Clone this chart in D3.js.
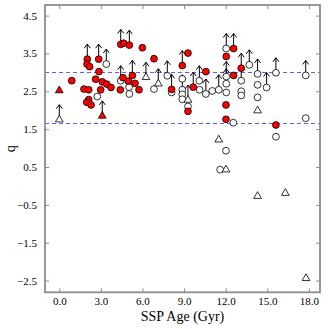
<!DOCTYPE html>
<html><head><meta charset="utf-8">
<script src="https://cdn.jsdelivr.net/npm/d3@7"></script>
<style>html,body{margin:0;padding:0;background:#fff;}svg{display:block;}</style>
</head><body>
<svg id="c" width="329" height="329"></svg>
<script>
// [age (Gyr), q, lowerLimit]
const redCircles = [
 [0.9,2.78,0],[2.02,3.35,1],[2.0,3.22,0],[2.19,3.15,0],[2.84,3.35,1],[2.86,3.02,0],
 [2.62,2.82,0],[3.1,2.75,0],[3.42,2.69,0],[3.73,2.60,0],[1.78,2.56,0],[2.12,2.54,0],
 [2.98,2.54,0],[2.12,2.28,0],[1.98,2.21,0],[2.29,2.14,0],[4.43,3.74,1],[4.64,3.77,0],
 [5.05,3.72,1],[5.99,3.65,0],[6.83,3.36,0],[4.59,2.86,0],[5.27,2.92,1],[4.98,2.77,0],
 [5.46,2.71,0],[4.4,2.54,0],[5.75,2.54,0],[8.1,2.55,1],[8.87,3.18,1],[9.28,3.51,0],
 [9.28,1.97,0],[9.66,2.61,1],[10.57,3.02,0],[12.04,3.42,0],[12.57,3.63,1],[12.57,2.92,0],
 [13.12,3.11,1],[12.02,2.14,0],[12.02,1.76,0],[15.62,1.61,0]
];
const openCircles = [
 [3.39,3.22,1],[2.74,2.36,0],[4.43,2.78,1],[5.03,2.61,0],[5.05,2.43,0],[6.83,2.56,0],
 [7.79,2.91,1],[8.1,2.47,0],[8.87,2.83,0],[8.87,2.54,1],[8.87,2.42,0],[8.87,2.29,0],
 [9.28,2.10,0],[10.1,2.78,1],[10.12,2.54,0],[10.57,2.43,1],[11.03,2.51,0],[11.5,2.54,1],
 [12.04,3.63,1],[12.04,2.89,1],[12.04,2.70,1],[12.04,2.47,0],[13.12,2.78,1],[13.12,2.5,0],
 [13.12,2.39,0],[13.7,3.2,1],[14.3,2.96,1],[14.3,2.67,0],[14.3,2.34,0],[14.95,2.6,1],
 [15.62,2.99,1],[15.62,1.3,0],[17.77,2.92,1],[17.77,1.79,0],[12.55,1.67,0],[12.02,0.93,0],
 [11.6,0.43,0]
];
const redTriangles = [[0.0,2.52,0],[3.1,1.85,1]];
const openTriangles = [
 [0.0,1.75,1],[6.25,2.87,1],[7.14,2.70,1],[9.28,2.27,1],[11.5,1.22,0],[12.02,0.43,0],
 [14.3,1.99,0],[14.3,-0.27,0],[16.3,-0.19,0],[17.79,-2.44,0]
];
const refLines = [3.0, 1.65];
const xTicks = [0,3,6,9,12,15,18];
const yTicks = [4.5,3.5,2.5,1.5,0.5,-0.5,-1.5,-2.5];

const svg = d3.select("#c");
const L=45, R=320, T=5, B=292.3;
const x = d3.scaleLinear().domain([-1.03,18.8]).range([L,R]);
const y = d3.scaleLinear().domain([-2.81,4.78]).range([B,T]);
const font = "'Liberation Serif','Times New Roman',serif";
const frameCol = "#8c8c8c";

// reference lines
svg.selectAll("line.ref").data(refLines).enter().append("line")
  .attr("x1",L).attr("x2",R).attr("y1",d=>Math.round(y(d))+0.5).attr("y2",d=>Math.round(y(d))+0.5)
  .attr("stroke","#5c5cff").attr("stroke-width",1).attr("stroke-dasharray","4,3");

// axes (ticks inside on all sides)
const ax = (g)=>g.selectAll(".domain").remove();
svg.append("g").attr("transform",`translate(0,${B})`)
  .call(d3.axisBottom(x).tickValues(xTicks).tickSizeInner(-4).tickSizeOuter(0).tickPadding(5).tickFormat(d3.format(".1f")))
  .call(ax).call(g=>{g.selectAll("line").attr("stroke",frameCol);g.selectAll("text").attr("font-family",font).attr("font-size",11).attr("fill","#000");});
svg.append("g").attr("transform",`translate(0,${T})`)
  .call(d3.axisTop(x).tickValues(xTicks).tickSizeInner(-4).tickSizeOuter(0).tickFormat(""))
  .call(ax).call(g=>g.selectAll("line").attr("stroke",frameCol));
svg.append("g").attr("transform",`translate(${L},0)`)
  .call(d3.axisLeft(y).tickValues(yTicks).tickSizeInner(-4).tickSizeOuter(0).tickPadding(8).tickFormat(d=>d3.format(".1f")(d).replace("-","\u2212")))
  .call(ax).call(g=>{g.selectAll("line").attr("stroke",frameCol);g.selectAll("text").attr("font-family",font).attr("font-size",11).attr("fill","#000");});
svg.append("g").attr("transform",`translate(${R},0)`)
  .call(d3.axisRight(y).tickValues(yTicks).tickSizeInner(-4).tickSizeOuter(0).tickFormat(""))
  .call(ax).call(g=>g.selectAll("line").attr("stroke",frameCol));

// arrows for lower limits
const allPts = [].concat(redCircles,openCircles,redTriangles,openTriangles).filter(d=>d[2]);
const ag = svg.append("g").attr("stroke","#000").attr("stroke-width",1).attr("fill","none");
allPts.forEach(d=>{
  const cx=x(d[0]), cy=y(d[1]), tip=cy-15;
  ag.append("line").attr("x1",cx).attr("x2",cx).attr("y1",cy).attr("y2",tip);
  ag.append("path").attr("d",`M${cx-3},${tip+4}L${cx},${tip}L${cx+3},${tip+4}`);
});

// markers
const circ=(data,fill)=>svg.append("g").selectAll("circle").data(data).enter().append("circle")
  .attr("cx",d=>x(d[0])).attr("cy",d=>y(d[1])).attr("r",3.4)
  .attr("fill",fill).attr("stroke","#000").attr("stroke-width",0.8);
const tri=d3.symbol().type(d3.symbolTriangle).size(26);
const tris=(data,fill)=>svg.append("g").selectAll("path").data(data).enter().append("path")
  .attr("d",tri).attr("transform",d=>`translate(${x(d[0])},${y(d[1])})`)
  .attr("fill",fill).attr("stroke","#000").attr("stroke-width",0.8);
circ(openCircles,"#fff");
tris(openTriangles,"#fff");
circ(redCircles,"#ff0000");
tris(redTriangles,"#ff0000");

// frame
svg.append("rect").attr("x",L).attr("y",T).attr("width",R-L).attr("height",B-T)
  .attr("fill","none").attr("stroke",frameCol).attr("stroke-width",1.8);

// labels
svg.append("text").attr("x",(L+R)/2).attr("y",321).attr("text-anchor","middle")
  .attr("font-family",font).attr("font-size",14).text("SSP Age (Gyr)");
svg.append("text").attr("transform",`translate(15,${(T+B)/2}) rotate(-90)`).attr("text-anchor","middle")
  .attr("font-family",font).attr("font-size",14).text("q");
</script>
</body></html>
